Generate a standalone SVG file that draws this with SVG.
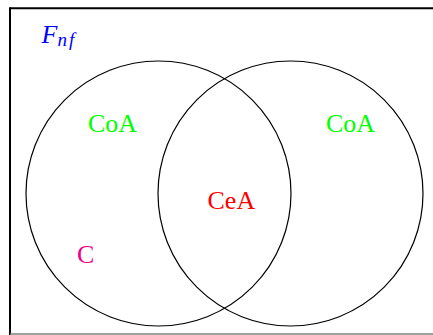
<svg xmlns="http://www.w3.org/2000/svg" width="433" height="335" viewBox="0 0 433 335">
<style>
.c{fill:none;stroke:#000;stroke-width:1.2}
.t{font-family:"Liberation Serif","Times New Roman",serif;font-size:26px}
</style>
<rect width="433" height="335" fill="#fff"/>
<g id="frame">
<line x1="10" y1="8.3" x2="433" y2="8.3" stroke="#000" stroke-width="2"/>
<line x1="10" y1="7.3" x2="10" y2="335" stroke="#000" stroke-width="2"/>
<line x1="10" y1="334" x2="433" y2="334" stroke="#808080" stroke-width="1.5"/>
</g>
<g id="setA"><circle class="c" cx="158.5" cy="193.5" r="132.5"/></g>
<g id="setB"><circle class="c" cx="290.5" cy="193.5" r="132.5"/></g>
<g id="label-F"><text class="t" x="41.5" y="43.3" fill="#0000ff" font-style="italic" font-size="26">F<tspan font-size="19" dy="3" letter-spacing="2">nf</tspan></text></g>
<g id="label-CoA-left"><text class="t" x="88" y="131.5" fill="#00ff00">CoA</text></g>
<g id="label-CoA-right"><text class="t" x="326" y="131.5" fill="#00ff00">CoA</text></g>
<g id="label-CeA"><text class="t" x="207.5" y="209" fill="#ff0000">CeA</text></g>
<g id="label-C"><text class="t" x="77" y="263" fill="#ec008c">C</text></g>
</svg>
